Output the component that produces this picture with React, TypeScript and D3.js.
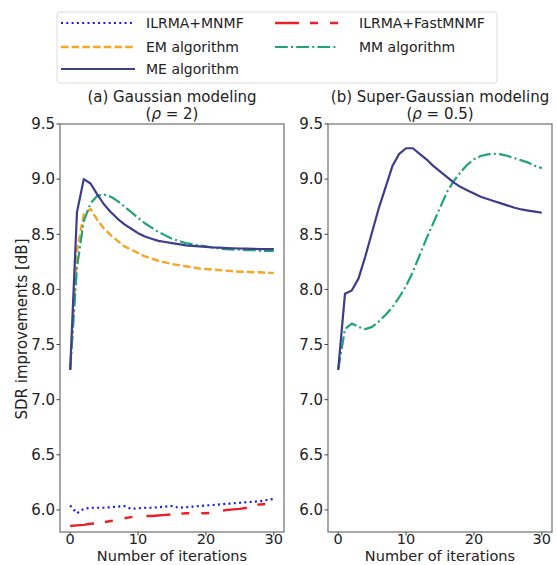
import React from 'react';
import * as d3 from 'd3';

const iterations = d3.range(0, 31);

// (a) Gaussian modeling, rho = 2
const gaussMNMF = [6.04, 5.97, 6.01, 6.02, 6.02, 6.02, 6.025, 6.03, 6.035, 6.01, 6.015, 6.02, 6.02, 6.025, 6.03, 6.035, 6.02, 6.025, 6.03, 6.035, 6.04, 6.045, 6.05, 6.055, 6.06, 6.065, 6.07, 6.075, 6.08, 6.09, 6.1];
const gaussFastMNMF = [5.855, 5.86, 5.865, 5.875, 5.88, 5.89, 5.9, 5.91, 5.925, 5.935, 5.94, 5.945, 5.945, 5.95, 5.955, 5.96, 5.965, 5.97, 5.97, 5.97, 5.97, 5.975, 5.985, 6.0, 6.005, 6.01, 6.02, 6.045, 6.05, 6.055, 6.06];
const gaussEM = [7.27, 8.35, 8.68, 8.73, 8.63, 8.55, 8.49, 8.44, 8.39, 8.36, 8.33, 8.3, 8.28, 8.26, 8.245, 8.23, 8.22, 8.21, 8.2, 8.19, 8.185, 8.18, 8.175, 8.17, 8.165, 8.16, 8.16, 8.155, 8.155, 8.15, 8.15];
const gaussMM = [7.27, 8.2, 8.62, 8.78, 8.85, 8.86, 8.84, 8.8, 8.75, 8.7, 8.65, 8.6, 8.56, 8.52, 8.49, 8.46, 8.44, 8.42, 8.41, 8.4, 8.39, 8.38, 8.37, 8.365, 8.36, 8.36, 8.355, 8.355, 8.35, 8.35, 8.35];
const gaussME = [7.27, 8.7, 9.0, 8.96, 8.86, 8.77, 8.7, 8.64, 8.59, 8.55, 8.51, 8.48, 8.46, 8.44, 8.43, 8.42, 8.41, 8.4, 8.395, 8.39, 8.385, 8.38, 8.378, 8.375, 8.373, 8.371, 8.37, 8.368, 8.366, 8.365, 8.365];

// (b) Super-Gaussian modeling, rho = 0.5
const superMM = [7.27, 7.64, 7.69, 7.66, 7.64, 7.66, 7.71, 7.77, 7.84, 7.93, 8.03, 8.16, 8.31, 8.46, 8.6, 8.74, 8.88, 8.98, 9.06, 9.13, 9.18, 9.21, 9.225, 9.23, 9.225, 9.21, 9.19, 9.17, 9.15, 9.12, 9.1];
const superME = [7.27, 7.96, 7.99, 8.1, 8.3, 8.52, 8.74, 8.93, 9.12, 9.23, 9.28, 9.28, 9.23, 9.18, 9.12, 9.07, 9.02, 8.97, 8.93, 8.9, 8.87, 8.84, 8.82, 8.8, 8.78, 8.76, 8.74, 8.725, 8.715, 8.705, 8.695];

const yTicks = [6.0, 6.5, 7.0, 7.5, 8.0, 8.5, 9.0, 9.5];
const xTicks = [0, 10, 20, 30];

const styles = {
  mnmf: { color: '#1a1adf', dash: '2,3.3', width: 2.2, label: 'ILRMA+MNMF' },
  fast: { color: '#e8202a', dash: '24,11,8,12,8,14', width: 2.4, label: 'ILRMA+FastMNMF' },
  em: { color: '#f5a623', dash: '7.5,3.2', width: 2.4, label: 'EM algorithm' },
  mm: { color: '#22a27c', dash: '12.8,3.2,2,3.2', width: 2.2, label: 'MM algorithm' },
  me: { color: '#3d3d8c', dash: null, width: 2.2, label: 'ME algorithm' },
};

const font = 'DejaVu Sans, sans-serif';
const top = 124;
const bottom = 532;

const yScale = d3.scaleLinear().domain([5.8, 9.5]).range([bottom, top]);

const Panel = ({ left, right, title, rho, series }) => {
  const x = d3.scaleLinear().domain([-1.5, 31.5]).range([left, right]);
  const line = d3.line<number>().x((d, i) => x(iterations[i])).y(d => yScale(d));
  const cx = (left + right) / 2;
  return (
    <g>
      <text x={cx} y={102} textAnchor="middle" fontSize={15} fill="#222">{title}</text>
      <text x={cx} y={119} textAnchor="middle" fontSize={15} fill="#222">
        (<tspan fontStyle="italic">ρ</tspan> = {rho})
      </text>
      {series.map((s, k) => (
        <path key={k} d={line(s.values) || ''} fill="none" stroke={s.style.color}
          strokeWidth={s.style.width} strokeDasharray={s.style.dash || undefined} strokeLinejoin="round" />
      ))}
      <rect x={left} y={top} width={right - left} height={bottom - top} fill="none" stroke="#7a7a7a" strokeWidth={1.3} />
      {yTicks.map(t => (
        <g key={t}>
          <line x1={left - 3.5} x2={left} y1={yScale(t)} y2={yScale(t)} stroke="#444" />
          <text x={left - 5} y={yScale(t)} dy="0.35em" textAnchor="end" fontSize={15} fill="#222">{t.toFixed(1)}</text>
        </g>
      ))}
      {xTicks.map(t => (
        <g key={t}>
          <line x1={x(t)} x2={x(t)} y1={bottom} y2={bottom + 3.5} stroke="#444" />
          <text x={x(t)} y={544} textAnchor="middle" fontSize={14.5} fill="#222">{t}</text>
        </g>
      ))}
      <text x={cx} y={561} textAnchor="middle" fontSize={14.5} fill="#222">Number of iterations</text>
    </g>
  );
};

const LegendItem = ({ x, y, style, short }) => (
  <g>
    <line x1={x} x2={x + (short ? 63 : 74)} y1={y} y2={y}
      stroke={style.color} strokeWidth={style.width} strokeDasharray={style.dash || undefined} />
    <text x={x + (short ? 84 : 85)} y={y} dy="0.35em" fontSize={14} fill="#222">{style.label}</text>
  </g>
);

export default function App() {
  return (
    <svg width={557} height={565} style={{ position: 'absolute', left: 0, top: 0, background: '#fff' }} fontFamily={font}>
      <rect x={57} y={12} width={440} height={71} rx={3} fill="#fff" stroke="#dcdcdc" />
      <LegendItem x={61} y={23} style={styles.mnmf} />
      <LegendItem x={275} y={23} style={styles.fast} short />
      <LegendItem x={61} y={47} style={styles.em} />
      <LegendItem x={275} y={47} style={styles.mm} short />
      <LegendItem x={61} y={69} style={styles.me} />

      <Panel left={60} right={284} title="(a) Gaussian modeling" rho="2"
        series={[
          { values: gaussMNMF, style: styles.mnmf },
          { values: gaussFastMNMF, style: styles.fast },
          { values: gaussEM, style: styles.em },
          { values: gaussMM, style: styles.mm },
          { values: gaussME, style: styles.me },
        ]} />
      <Panel left={328} right={552} title="(b) Super-Gaussian modeling" rho="0.5"
        series={[
          { values: superMM, style: styles.mm },
          { values: superME, style: styles.me },
        ]} />

      <text transform="translate(22,329) rotate(-90)" textAnchor="middle" dy="0.35em" fontSize={15} fill="#222">SDR improvements [dB]</text>
    </svg>
  );
}
